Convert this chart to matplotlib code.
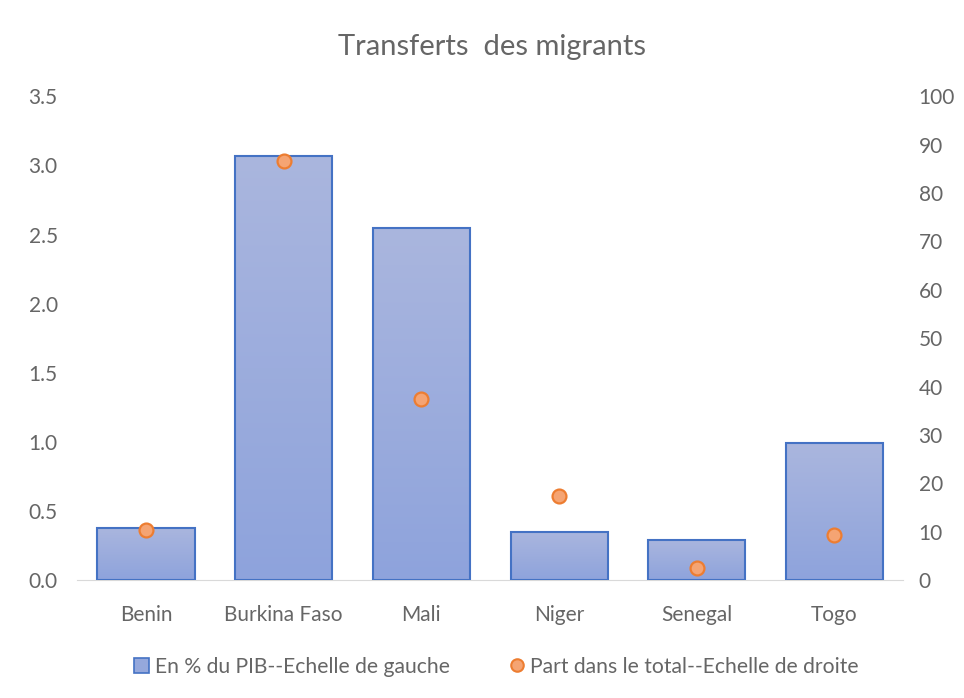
import numpy as np
import matplotlib.pyplot as plt
from matplotlib.patches import Patch
from matplotlib.lines import Line2D
from matplotlib.colors import LinearSegmentedColormap

countries = ['Benin', 'Burkina Faso', 'Mali', 'Niger', 'Senegal', 'Togo']
pct_pib = [0.38, 3.07, 2.55, 0.35, 0.29, 0.99]
part_total = [10.4, 86.6, 37.4, 17.4, 2.5, 9.4]

plt.rcParams['font.family'] = ['Lato', 'DejaVu Sans']
grey = '#666666'

fig = plt.figure(figsize=(9.64, 6.98), dpi=100)
ax = fig.add_axes([0.080, 0.169, 0.857, 0.693])
ax2 = ax.twinx()

x = np.arange(len(countries))
bars = ax.bar(x, pct_pib, width=0.705, color='none', edgecolor='#4472c4',
              linewidth=1.5, zorder=3)

# vertical gradient inside each bar
grad = np.linspace(0, 1, 256).reshape(-1, 1)
cmap = LinearSegmentedColormap.from_list('g', ['#8ea3dc', '#aab6de'])
for b in bars:
    x0, y0 = b.get_x(), b.get_y()
    im = ax.imshow(grad, cmap=cmap, origin='lower', aspect='auto',
                   extent=[x0, x0 + b.get_width(), y0, y0 + b.get_height()],
                   zorder=2)
    im.set_clip_path(b)

ax.set_xlim(-0.5, len(countries) - 0.5)
ax.set_ylim(0, 3.5)
ax.set_yticks(np.arange(0, 3.51, 0.5))
ax.set_yticklabels([f'{v:.1f}' for v in np.arange(0, 3.51, 0.5)])
ax.set_xticks(x)
ax.set_xticklabels(countries)

ax2.plot(x, part_total, 'o', markersize=10, markerfacecolor='#f5a473',
         markeredgecolor='#ed7d31', markeredgewidth=1.6, zorder=4)
ax2.set_ylim(0, 100)
ax2.set_yticks(np.arange(0, 101, 10))

for a in (ax, ax2):
    for s in a.spines.values():
        s.set_visible(False)
    a.tick_params(length=0, labelsize=15, colors=grey)
ax.spines['bottom'].set_visible(True)
ax.spines['bottom'].set_color('#d9d9d9')
ax.tick_params(axis='x', pad=18)
ax.tick_params(axis='y', pad=14)
ax2.tick_params(axis='y', pad=11)

fig.text(0.51, 0.932, 'Transferts  des migrants', ha='center', va='center',
         fontsize=21, color=grey)

handles = [Patch(facecolor='#95a8dc', edgecolor='#4472c4', linewidth=1.2),
           Line2D([], [], marker='o', linestyle='none', markersize=9,
                  markerfacecolor='#f5a473', markeredgecolor='#ed7d31',
                  markeredgewidth=1.5)]
fig.legend(handles, ['En % du PIB--Echelle de gauche',
                     'Part dans le total--Echelle de droite'],
           loc='center', bbox_to_anchor=(0.515, 0.045), ncol=2, frameon=False,
           fontsize=15.2, labelcolor=grey, handlelength=0.7, handletextpad=0.3,
           columnspacing=2.8)

fig.savefig('out.png', dpi=100)
